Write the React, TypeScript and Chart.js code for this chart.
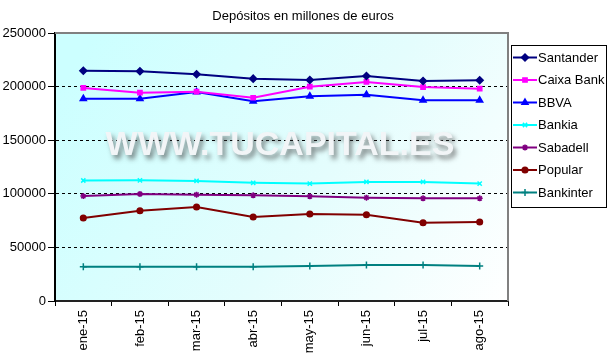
import React, { useEffect, useRef } from "react";
import { Chart, registerables } from "chart.js";
import { drawPoint } from "chart.js/helpers";

Chart.register(...registerables);

const categories = ["ene-15", "feb-15", "mar-15", "abr-15", "may-15", "jun-15", "jul-15", "ago-15"];
const santander = [214800, 214300, 211500, 207400, 206200, 209900, 205200, 205900];
const caixaBank = [198700, 194300, 195200, 189600, 199900, 204300, 199600, 198000];
const bbva = [188700, 188700, 195000, 186300, 191000, 192400, 187200, 187200];
const bankia = [112400, 112600, 112000, 110200, 109500, 111100, 111100, 109500];
const sabadell = [97900, 99800, 99200, 98600, 97600, 96400, 95800, 95800];
const popular = [77400, 84200, 87700, 78400, 81200, 80500, 73000, 73700];
const bankinter = [32000, 32000, 32000, 32000, 32600, 33600, 33600, 32600];
const yMin = 0;
const yMax = 250000;
const yStep = 50000;

const titleText = "Depósitos en millones de euros";
const watermarkText = "WWW.TUCAPITAL.ES";

const FONT = "'Liberation Sans', Arial, sans-serif";

type SeriesDef = { label: string; data: number[]; color: string; style: string; radius: number };
const series: SeriesDef[] = [
  { label: "Santander", data: santander, color: "#000080", style: "rectRot", radius: 3.5 },
  { label: "Caixa Bank", data: caixaBank, color: "#FF00FF", style: "rect", radius: 3 },
  { label: "BBVA", data: bbva, color: "#0000FF", style: "triangle", radius: 3.5 },
  { label: "Bankia", data: bankia, color: "#00FFFF", style: "crossRot", radius: 3 },
  { label: "Sabadell", data: sabadell, color: "#800080", style: "star", radius: 3 },
  { label: "Popular", data: popular, color: "#800000", style: "circle", radius: 2.8 },
  { label: "Bankinter", data: bankinter, color: "#008080", style: "cross", radius: 3.5 },
];

const decorPlugin = {
  id: "decor",
  beforeDraw(chart: any) {
    const { ctx, chartArea: a } = chart;
    ctx.save();
    ctx.fillStyle = "#ffffff";
    ctx.fillRect(0, 0, chart.width, chart.height);
    const g = ctx.createLinearGradient(a.left + 40, a.top, a.right, a.bottom);
    g.addColorStop(0, "#ccffff");
    g.addColorStop(0.55, "#e4fdfd");
    g.addColorStop(1, "#ffffff");
    ctx.fillStyle = g;
    ctx.fillRect(a.left, a.top, a.right - a.left, a.bottom - a.top);
    // title
    ctx.fillStyle = "#000";
    ctx.font = `13px ${FONT}`;
    ctx.textAlign = "center";
    ctx.textBaseline = "middle";
    ctx.fillText(titleText, 303, 16);
    ctx.restore();
  },
  beforeDatasetsDraw(chart: any) {
    const { ctx } = chart;
    ctx.save();
    ctx.font = `bold 34px ${FONT}`;
    ctx.textAlign = "center";
    ctx.textBaseline = "alphabetic";
    ctx.shadowColor = "rgba(60,60,60,0.6)";
    ctx.shadowBlur = 5;
    ctx.shadowOffsetX = 3;
    ctx.shadowOffsetY = 4;
    ctx.fillStyle = "#f2f5f7";
    ctx.fillText(watermarkText, 280, 155);
    ctx.restore();
  },
  afterDraw(chart: any) {
    const { ctx, chartArea: a } = chart;
    ctx.save();
    ctx.strokeStyle = "#808080";
    ctx.lineWidth = 2;
    ctx.beginPath();
    ctx.moveTo(a.left, a.top);
    ctx.lineTo(a.right, a.top);
    ctx.lineTo(a.right, a.bottom);
    ctx.stroke();

    // legend
    const bx = 511.5, by = 45.5, bw = 95, bh = 162;
    ctx.fillStyle = "#ffffff";
    ctx.fillRect(bx, by, bw, bh);
    ctx.strokeStyle = "#000";
    ctx.lineWidth = 1;
    ctx.strokeRect(bx, by, bw, bh);
    ctx.font = `13px ${FONT}`;
    ctx.textAlign = "left";
    ctx.textBaseline = "middle";
    chart.data.datasets.forEach((ds: any, i: number) => {
      const y = 57.5 + i * 22.5;
      ctx.strokeStyle = ds.borderColor;
      ctx.lineWidth = 2;
      ctx.beginPath();
      ctx.moveTo(513, y);
      ctx.lineTo(537, y);
      ctx.stroke();
      ctx.fillStyle = ds.borderColor;
      ctx.strokeStyle = ds.borderColor;
      ctx.lineWidth = 1.5;
      drawPoint(ctx, { pointStyle: ds.pointStyle, radius: ds.pointRadius, rotation: 0, borderWidth: 1.5 } as any, 525, y);
      ctx.fillStyle = "#000";
      ctx.fillText(ds.label, 538, y + 0.5);
    });
    ctx.restore();
  },
};

export default function App() {
  const ref = useRef<HTMLCanvasElement | null>(null);
  useEffect(() => {
    if (!ref.current) return;
    const chart = new Chart(ref.current, {
      type: "line",
      data: {
        labels: categories,
        datasets: series.map((s) => ({
          label: s.label,
          data: s.data,
          borderColor: s.color,
          backgroundColor: s.color,
          pointBackgroundColor: s.color,
          pointBorderColor: s.color,
          borderWidth: 2,
          pointStyle: s.style as any,
          pointRadius: s.radius,
          pointBorderWidth: 1.5,
          tension: 0,
          fill: false,
        })),
      },
      options: {
        responsive: false,
        animation: false,
        devicePixelRatio: 1,
        layout: { padding: { top: 33, right: 101, left: 0, bottom: 0 } },
        plugins: {
          legend: { display: false },
          title: { display: false },
          tooltip: { enabled: false },
        },
        scales: {
          x: {
            type: "category",
            offset: true,
            afterFit: (scale: any) => {
              scale.height = 54;
            },
            grid: {
              offset: true,
              drawOnChartArea: false,
              drawTicks: true,
              tickLength: 5,
              tickColor: "#000",
              tickWidth: 1,
            },
            border: { display: true, color: "#222", width: 2 },
            ticks: {
              color: "#000",
              font: { family: FONT, size: 13 },
              minRotation: 90,
              maxRotation: 90,
              padding: 4,
              autoSkip: false,
            },
          },
          y: {
            min: yMin,
            max: yMax,
            afterFit: (scale: any) => {
              scale.width = 55;
            },
            ticks: {
              stepSize: yStep,
              color: "#000",
              font: { family: FONT, size: 13 },
              padding: 2,
              callback: (v: any) => String(v),
            },
            grid: {
              color: (ctx: any) =>
                ctx.tick && (ctx.tick.value === yMin || ctx.tick.value === yMax) ? "rgba(0,0,0,0)" : "#000",
              lineWidth: 1,
              tickColor: "#000",
              tickLength: 7,
              tickBorderDash: [],
            },
            border: { display: true, color: "#000", width: 2, dash: [3, 3] },
          },
        },
      },
      plugins: [decorPlugin],
    } as any);
    return () => chart.destroy();
  }, []);
  return (
    <div style={{ position: "fixed", left: 0, top: 0, width: 609, height: 355, background: "#fff" }}>
      <canvas ref={ref} width={609} height={355} style={{ display: "block", width: 609, height: 355 }} />
    </div>
  );
}
